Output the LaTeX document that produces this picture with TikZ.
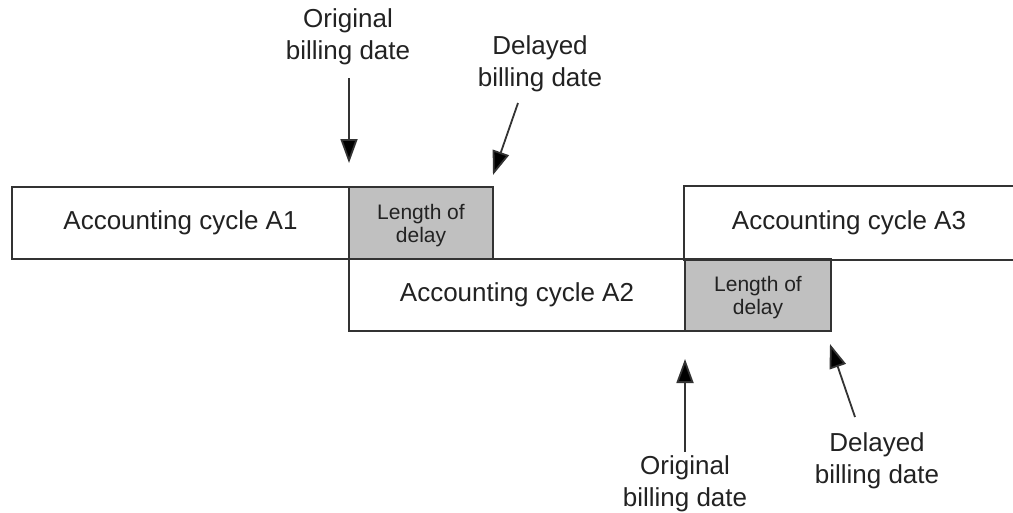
\documentclass[tikz,border=0pt]{standalone}
\usepackage{fontspec}
\setmainfont{Liberation Sans}
\usetikzlibrary{arrows.meta}
\definecolor{edge}{HTML}{333333}
\definecolor{delayfill}{HTML}{C0C0C0}
\definecolor{ink}{HTML}{222222}
\tikzset{
  cyclebox/.style={draw=edge, line width=1.6pt, fill=white, inner sep=0pt, anchor=center,
    text=ink, font=\fontsize{26}{30}\selectfont},
  delaybox/.style={draw=edge, line width=1.6pt, fill=delayfill, inner sep=0pt, anchor=center,
    text=ink, align=center, text depth=0pt, font=\fontsize{21}{23}\selectfont},
  lbl/.style={align=center, inner sep=0pt, text=ink, font=\fontsize{26}{32}\selectfont},
  arr/.style={draw=edge, line width=1.8pt, -{Triangle[length=24pt,width=17pt,fill=black]}},
}
\begin{document}
\begin{tikzpicture}[x=1pt,y=-1pt]
\useasboundingbox (0,0) rectangle (1013,512);
% boxes
\node[cyclebox, minimum width=337pt, minimum height=72pt] (a1) at (180.5,223) {Accounting cycle A1};
\node[delaybox, minimum width=144pt, minimum height=72pt] (d1) at (421,223) {Length of\\delay};
\node[cyclebox, minimum width=336pt, minimum height=72pt] (a2) at (517,295) {Accounting cycle A2};
\node[delaybox, minimum width=146pt, minimum height=72pt] (d2) at (758,295) {Length of\\delay};
\node[cyclebox, draw=none, fill=none, minimum width=328pt, minimum height=72pt] (a3) at (849,223) {Accounting cycle A3};
\draw[draw=edge, line width=1.6pt] (a3.north east) -- (a3.north west) -- (a3.south west) -- (a3.south east);
% labels
\node[lbl] (o1) at (348,37) {Original\\billing date};
\node[lbl] (l1) at (540,64) {Delayed\\billing date};
\node[lbl] (o2) at (685,484) {Original\\billing date};
\node[lbl] (l2) at (877,461) {Delayed\\billing date};
% arrow ends
\coordinate (o1s) at (349,78);
\coordinate (o1t) at (349,163);
\coordinate (l1s) at (518,103);
\coordinate (l1t) at (493,175);
\coordinate (o2s) at (685,452);
\coordinate (o2t) at (685,359);
\coordinate (l2s) at (855,417);
\coordinate (l2t) at (830,344);
\draw[arr] (o1s) -- (o1t);
\draw[arr] (l1s) -- (l1t);
\draw[arr] (o2s) -- (o2t);
\draw[arr] (l2s) -- (l2t);
\end{tikzpicture}
\end{document}
